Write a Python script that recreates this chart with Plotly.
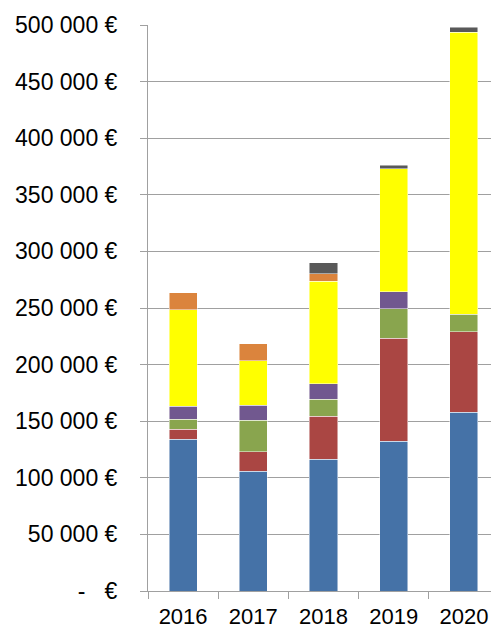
import plotly.graph_objects as go

years = ["2016", "2017", "2018", "2019", "2020"]
blue = [134000, 106000, 116500, 132300, 158000]
red = [9000, 17000, 37800, 91000, 71000]
green = [8600, 28000, 15300, 25900, 15600]
purple = [11500, 13000, 13500, 15300, None]
yellow = [85300, 39500, 90500, 108300, 249000]
orange = [15000, 15000, 6700, None, None]
gray = [None, None, 9500, 3500, 4200]

tick_vals = [0, 50000, 100000, 150000, 200000, 250000, 300000, 350000, 400000, 450000, 500000]
tick_text = ["-\u00a0\u00a0\u00a0€", "50 000 €", "100 000 €", "150 000 €", "200 000 €",
             "250 000 €", "300 000 €", "350 000 €", "400 000 €", "450 000 €", "500 000 €"]

series = [
    (blue, "#4572A7"),
    (red, "#AA4643"),
    (green, "#89A54E"),
    (purple, "#71588F"),
    (yellow, "#FFFF00"),
    (orange, "#DB843D"),
    (gray, "#595959"),
]

fig = go.Figure()
for vals, col in series:
    fig.add_trace(go.Bar(
        x=years, y=vals, marker=dict(color=col, line=dict(color="rgba(255,255,255,0.6)", width=0.8)),
        showlegend=False,
    ))

# page body has an 8px default margin, so the figure is offset by (8, 8)
fig.update_layout(
    barmode="stack",
    bargap=0.6,
    width=491, height=622,
    margin=dict(l=140, r=0, t=17, b=39),
    plot_bgcolor="white", paper_bgcolor="white",
    font=dict(family="Liberation Sans, Arial, sans-serif", size=23, color="#000000"),
)
fig.update_yaxes(
    range=[0, 500000], tickvals=tick_vals, ticktext=tick_text,
    showgrid=True, gridcolor="#A0A0A0", gridwidth=1,
    showline=True, linecolor="#A0A0A0", linewidth=1,
    ticks="outside", ticklen=7, tickcolor="#A0A0A0",
    ticklabelstandoff=18, zeroline=False, automargin=False,
)
fig.update_xaxes(
    range=[-0.5, 4.5], tickson="boundaries",
    showline=True, linecolor="#A0A0A0", linewidth=1,
    ticks="outside", ticklen=7, tickcolor="#A0A0A0",
    tickfont=dict(size=22),
    showgrid=False, automargin=False, ticklabelstandoff=6,
)
fig.write_html("out.html")
